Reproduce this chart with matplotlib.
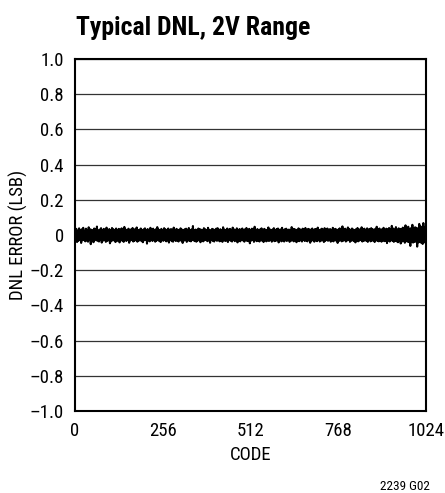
import matplotlib
matplotlib.use("Agg")
import matplotlib.pyplot as plt
import numpy as np

# DNL error, in thousandths of an LSB, every other code
dnl_milli = [
    31, -28, 35, -40, 22, -33, 38, -25, 29, -45, 33, -30, 41, -27, 24, -36,
    36, -31, 27, -38, 44, -29, 33, -52, 30, -35, 26, -41, 37, -24, 32, -30,
    48, -33, 25, -37, 31, -28, 39, -43, 27, -32, 35, -26, 30, -39, 42, -34,
    28, -30, 34, -47, 25, -36, 40, -29, 33, -31, 26, -40, 37, -35, 29, -27,
    35, -42, 30, -26, 38, -33, 24, -39, 46, -30, 31, -34, 27, -28, 36, -44,
    29, -31, 33, -25, 40, -37, 26, -32, 35, -29, 43, -38, 28, -33, 30, -26,
    37, -35, 25, -41, 32, -30, 38, -27, 29, -49, 34, -31, 27, -36, 41, -28,
    30, -34, 36, -29, 26, -38, 33, -32, 45, -27, 31, -35, 28, -40, 35, -30,
    27, -33, 39, -28, 32, -36, 25, -31, 37, -43, 29, -26, 34, -35, 30, -38,
    42, -29, 28, -34, 35, -31, 30, -37, 26, -28, 38, -33, 31, -45, 27, -32,
    33, -27, 36, -39, 29, -30, 40, -34, 25, -36, 32, -29, 51, -31, 28, -35,
    31, -38, 26, -32, 37, -28, 34, -41, 30, -33, 27, -36, 39, -30, 33, -27,
    28, -35, 41, -31, 30, -44, 26, -29, 35, -34, 32, -37, 28, -26, 36, -33,
    39, -30, 27, -36, 33, -32, 29, -39, 44, -28, 31, -34, 26, -31, 37, -40,
    30, -29, 35, -33, 28, -37, 42, -27, 32, -35, 27, -30, 38, -42, 29, -31,
    34, -36, 30, -28, 37, -31, 26, -38, 33, -29, 40, -34, 28, -33, 35, -47,
    29, -32, 36, -27, 31, -39, 47, -30, 28, -35, 34, -31, 27, -37, 32, -29,
    38, -33, 25, -40, 35, -28, 30, -36, 29, -31, 43, -34, 33, -27, 26, -38,
    31, -30, 39, -35, 28, -33, 34, -29, 37, -42, 30, -27, 32, -36, 41, -31,
    27, -37, 33, -30, 36, -34, 29, -28, 31, -39, 26, -33, 45, -30, 35, -36,
    34, -29, 30, -41, 27, -32, 38, -35, 33, -30, 29, -37, 36, -28, 31, -34,
    40, -31, 28, -36, 35, -27, 32, -44, 30, -33, 37, -29, 27, -38, 34, -30,
    33, -35, 42, -28, 29, -37, 31, -32, 36, -30, 28, -40, 39, -34, 30, -27,
    37, -33, 30, -29, 34, -38, 27, -31, 41, -36, 32, -28, 35, -33, 29, -45,
    31, -34, 38, -30, 28, -36, 49, -33, 32, -29, 36, -37, 30, -31, 43, -28,
    35, -39, 29, -33, 37, -30, 31, -35, 28, -42, 34, -29, 40, -36, 33, -31,
    30, -28, 44, -37, 32, -34, 36, -30, 29, -33, 38, -39, 31, -27, 35, -36,
    39, -32, 33, -31, 30, -40, 35, -29, 47, -34, 31, -36, 37, -30, 28, -38,
    34, -30, 41, -35, 29, -33, 36, -46, 32, -31, 40, -37, 33, -29, 52, -34,
    37, -39, 31, -33, 45, -36, 30, -41, 38, -32, 35, -48, 33, -37, 42, -31,
    36, -44, 55, -35, 32, -38, 47, -40, 34, -62, 39, -36, 58, -43, 37, -39,
    44, -37, 41, -66, 36, -42, 63, -38, 49, -45, 40, -51, 68, -39, 46, -42,
]
code_step = 2

x_ticks = [0, 256, 512, 768, 1024]
y_ticks = [-1.0, -0.8, -0.6, -0.4, -0.2, 0.0, 0.2, 0.4, 0.6, 0.8, 1.0]
y_labels = ["\u20131.0", "\u20130.8", "\u20130.6", "\u20130.4", "\u20130.2", "0",
            "0.2", "0.4", "0.6", "0.8", "1.0"]

# narrow face wanted; first installed one wins
plt.rcParams['font.family'] = ['Liberation Sans Narrow', 'Roboto Condensed',
                               'Open Sans Condensed', 'DejaVu Sans']
plt.rcParams['font.stretch'] = 'condensed'

codes = np.arange(len(dnl_milli)) * code_step
dnl = np.array(dnl_milli) / 1000.0

fig = plt.figure(figsize=(4.45, 4.93), dpi=100)
ax = fig.add_axes([0.1685, 0.1663, 0.789, 0.714])

ax.plot(codes, dnl, color='black', linewidth=1.5)

ax.set_xlim(0, 1024)
ax.set_ylim(-1.0, 1.0)
ax.set_xticks(x_ticks)
ax.set_xticklabels([str(t) for t in x_ticks])
ax.set_yticks(y_ticks)
ax.set_yticklabels(y_labels)
ax.tick_params(length=0, labelsize=13.5)
ax.tick_params(axis='x', pad=8)
ax.tick_params(axis='y', pad=8)

ax.grid(axis='y', color='#333333', linewidth=0.9)
ax.set_axisbelow(True)
for s in ax.spines.values():
    s.set_linewidth(1.5)
    s.set_color('black')

ax.set_xlabel("CODE", fontsize=13.5, labelpad=4)
ax.set_ylabel("DNL ERROR (LSB)", fontsize=13.5, labelpad=1)

fig.text(76 / 445, 1 - 28 / 493, "Typical DNL, 2V Range", fontsize=18.5,
         fontweight='bold', ha='left', va='center')
fig.text(405 / 445, 1 - 486 / 493, "2239 G02", fontsize=9.5,
         ha='center', va='center')

fig.savefig("out.png", dpi=100)
